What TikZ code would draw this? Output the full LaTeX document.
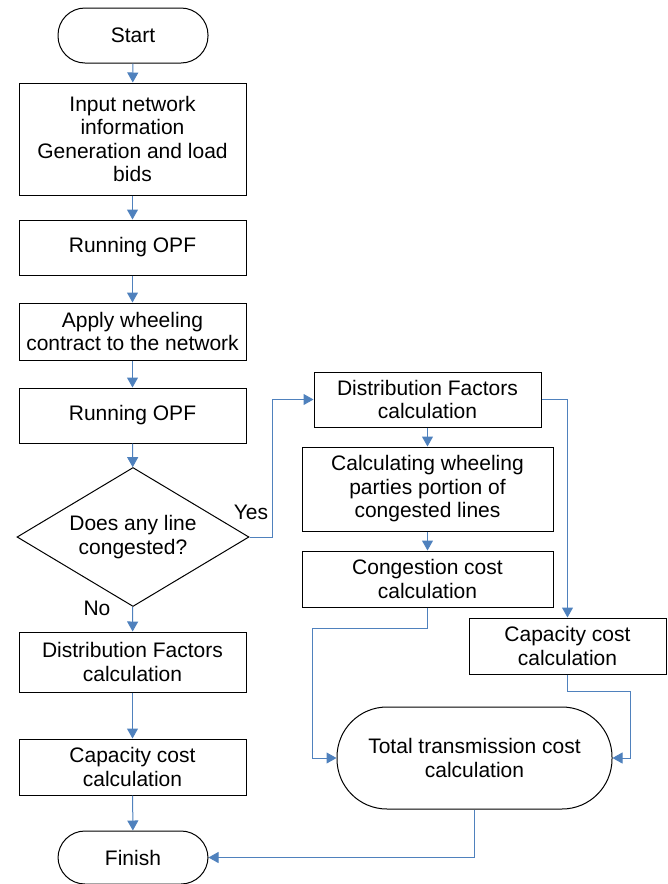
\documentclass[tikz,border=0pt]{standalone}
\usepackage{fontspec}
\setmainfont{Liberation Sans}
\usetikzlibrary{shapes.geometric,arrows.meta}
\definecolor{linkblue}{RGB}{79,129,189}

\begin{document}
\begin{tikzpicture}[
  x=1pt, y=-1pt,
  every node/.style = {font=\fontsize{21}{23.5}\selectfont, align=center},
  stepbox/.style = {draw, line width=1pt, inner sep=2pt,
                    minimum width=227pt, minimum height=55pt},
  term/.style = {draw, line width=1pt, rounded corners=#1,
                 minimum width=150pt, minimum height=55pt},
  term/.default = 27pt,
  decide/.style = {draw, diamond, aspect=1.67, inner sep=0pt, line width=1pt,
                   minimum width=232pt, minimum height=139pt},
  flow/.style = {-{Triangle[length=10pt,width=11pt]}, line width=1pt, linkblue},
]
\useasboundingbox (0,0) rectangle (668,884);

%% ── Main column (left) ───────────────────────────────────────────────────────
\node[term] (start) at (133,35.5) {Start};
\node[stepbox, minimum height=112pt] (input) at (132.5,139)
  {Input network\\information\\Generation and load\\bids};
\node[stepbox] (opf1) at (132.5,247.5) {Running OPF};
\node[stepbox, minimum height=57pt] (wheel) at (132.5,331.5)
  {Apply wheeling\\contract to the network};
\node[stepbox] (opf2) at (132.5,415.5) {Running OPF};
\node[decide] (cong) at (133,537) {Does any line\\congested?};
\node[stepbox, minimum height=60pt] (dfleft) at (132.5,662)
  {Distribution Factors\\calculation};
\node[stepbox, minimum height=56pt] (capleft) at (132.5,767)
  {Capacity cost\\calculation};
\node[term, minimum height=53pt] (finish) at (133,857.5) {Finish};

%% ── Congested branch (right) ─────────────────────────────────────────────────
\node[stepbox] (dfright) at (427.5,399.5) {Distribution Factors\\calculation};
\node[stepbox, minimum width=251pt, minimum height=84pt] (portion) at (427.5,489)
  {Calculating wheeling\\parties portion of\\congested lines};
\node[stepbox, minimum width=251pt, minimum height=56pt] (congcost) at (427.5,579)
  {Congestion cost\\calculation};
\node[stepbox, minimum width=197pt, minimum height=56pt] (capright) at (567.5,646)
  {Capacity cost\\calculation};
\node[term=50pt, minimum width=275pt, minimum height=102pt] (total) at (474.5,758)
  {Total transmission cost\\calculation};

%% ── Decision labels ──────────────────────────────────────────────────────────
\node (yes) at (251,512) {Yes};
\node (no) at (97,608) {No};

%% ── Connectors ───────────────────────────────────────────────────────────────
\draw[flow] (start) -- (input);
\draw[flow] (input) -- (opf1);
\draw[flow] (opf1) -- (wheel);
\draw[flow] (wheel) -- (opf2);
\draw[flow] (opf2) -- (cong);
\draw[flow] (cong) -- (dfleft);
\draw[flow] (dfleft) -- (capleft);
\draw[flow] (capleft) -- (finish);

\draw[flow] (cong.east) -- ++(23,0) |- (dfright.west);
\draw[flow] (dfright) -- (portion);
\draw[flow] (portion) -- (congcost);
\draw[flow] (dfright.east) -| (capright.north);
\draw[flow] (congcost.south) -- ++(0,21) -| ([xshift=-24pt]total.west) -- (total.west);
\draw[flow] (capright.south) -- ++(0,17) -| ([xshift=18pt]total.east) -- (total.east);
\draw[flow] (total.south) |- (finish.east);

\end{tikzpicture}
\end{document}
